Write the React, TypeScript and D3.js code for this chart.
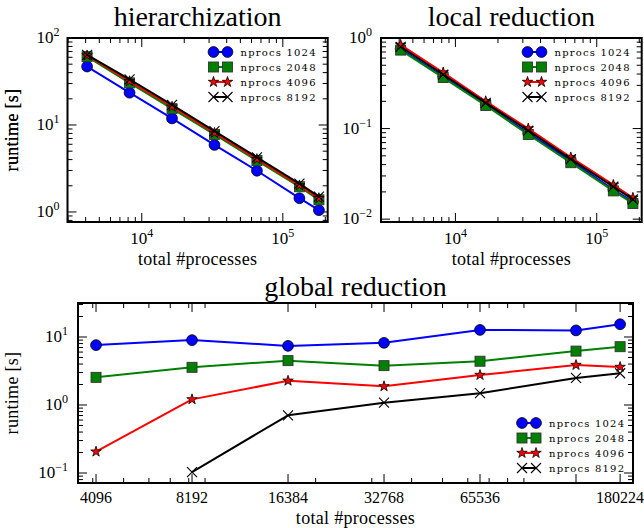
import * as d3 from 'd3';

// total #processes on every x axis
const procs = [4096, 8192, 16384, 32768, 65536, 131072, 180224];
const seriesNames = ['nprocs 1024', 'nprocs 2048', 'nprocs 4096', 'nprocs 8192'];

// hierarchization runtime [s]
const hier1024 = [47, 23.5, 11.9, 5.9, 2.98, 1.44, 1.05];
const hier2048 = [61, 30.5, 15.4, 7.8, 3.9, 1.95, 1.38];
const hier4096 = [63, 31.8, 16.2, 8.1, 4.05, 2.02, 1.44];
const hier8192 = [64, 33.5, 17.0, 8.5, 4.25, 2.12, 1.5];

// local reduction runtime [s]
const local1024 = [0.76, 0.375, 0.185, 0.089, 0.044, 0.0212, 0.0155];
const local2048 = [0.735, 0.366, 0.18, 0.086, 0.042, 0.0205, 0.0149];
const local4096 = [0.84, 0.416, 0.2, 0.1, 0.048, 0.0239, 0.0172];
const local8192 = [0.8, 0.395, 0.192, 0.095, 0.046, 0.0228, 0.0165];

// global reduction runtime [s] (8192 has no run at 4096)
const global1024 = [7.6, 9.0, 7.4, 8.2, 12.7, 12.5, 15.4];
const global2048 = [2.55, 3.58, 4.49, 3.79, 4.4, 6.2, 7.2];
const global4096 = [0.206, 1.21, 2.27, 1.88, 2.76, 3.87, 3.62];
const global8192 = [null, 0.103, 0.706, 1.08, 1.49, 2.5, 2.93];

const globalTickLabels = ['4096', '8192', '16384', '32768', '65536', '', '180224'];

const STYLES = [
    { color: '#0000ff', marker: 'circle' },
    { color: '#008000', marker: 'square' },
    { color: '#ff0000', marker: 'star' },
    { color: '#000000', marker: 'x' },
];

const SERIF = 'Liberation Serif, Tinos, Times New Roman, DejaVu Serif';
const LEGEND_FONT = 'DejaVu Serif';

const starPath = d3.symbol(d3.symbolStar, 34)();

function Marker({ kind, x, y, color }) {
    if (kind === 'circle') {
        return <circle cx={x} cy={y} r={5.4} fill={color} stroke="#000" strokeWidth={0.8} />;
    }
    if (kind === 'square') {
        return <rect x={x - 5} y={y - 5} width={10} height={10} fill={color} stroke="#333" strokeWidth={0.9} />;
    }
    if (kind === 'star') {
        return <path transform={`translate(${x},${y})`} d={starPath} fill={color} stroke="#000" strokeWidth={0.8} />;
    }
    return (
        <path d={`M${x - 5},${y - 5}L${x + 5},${y + 5}M${x - 5},${y + 5}L${x + 5},${y - 5}`}
            stroke={color} strokeWidth={1.1} fill="none" />
    );
}

function pow10Label(exp, props) {
    const e = exp < 0 ? `\u2212${-exp}` : `${exp}`;
    return (
        <text {...props} style={{ fontFamily: SERIF }} fontSize={17} fill="#000">
            <tspan>10</tspan>
            <tspan dy={-7} fontSize={12}>{e}</tspan>
        </text>
    );
}

function logMinors(domain) {
    const out = [];
    const lo = Math.floor(Math.log10(domain[0]));
    const hi = Math.ceil(Math.log10(domain[1]));
    for (let k = lo; k <= hi; k++) {
        for (let m = 2; m <= 9; m++) {
            const v = m * Math.pow(10, k);
            if (v > domain[0] && v < domain[1]) out.push(v);
        }
    }
    return out;
}

function logMajors(domain) {
    const out = [];
    const lo = Math.ceil(Math.log10(domain[0]) - 1e-9);
    const hi = Math.floor(Math.log10(domain[1]) + 1e-9);
    for (let k = lo; k <= hi; k++) out.push(k);
    return out;
}

function Panel({ title, box, xDomain, yDomain, series, xMajor, xLabel, legend, titleY, xLabelY, xTickY, yLabelGap }) {
    const { x0, x1, y0, y1 } = box;
    const x = d3.scaleLog().domain(xDomain).range([x0, x1]);
    const y = d3.scaleLog().domain(yDomain).range([y1, y0]);
    const xMinor = logMinors(xDomain);
    const yMinor = logMinors(yDomain);
    const yMajor = logMajors(yDomain);
    const line = d3.line()
        .defined(d => d[1] != null)
        .x(d => x(d[0]))
        .y(d => y(d[1]));
    const MAJ = 9;
    const MIN = 5;
    const cx = (x0 + x1) / 2;
    const cy = (y0 + y1) / 2;

    return (
        <g>
            <text x={cx} y={titleY} textAnchor="middle" style={{ fontFamily: SERIF }} fontSize={28}>{title}</text>

            {/* ticks, inward on all four sides */}
            <g stroke="#000" strokeWidth={1}>
                {xMinor.map(v => (
                    <g key={'xm' + v}>
                        <line x1={x(v)} x2={x(v)} y1={y1} y2={y1 - MIN} />
                        <line x1={x(v)} x2={x(v)} y1={y0} y2={y0 + MIN} />
                    </g>
                ))}
                {xMajor.map(v => (
                    <g key={'xM' + v}>
                        <line x1={x(v)} x2={x(v)} y1={y1} y2={y1 - MAJ} />
                        <line x1={x(v)} x2={x(v)} y1={y0} y2={y0 + MAJ} />
                    </g>
                ))}
                {yMinor.map(v => (
                    <g key={'ym' + v}>
                        <line x1={x0} x2={x0 + MIN} y1={y(v)} y2={y(v)} />
                        <line x1={x1} x2={x1 - MIN} y1={y(v)} y2={y(v)} />
                    </g>
                ))}
                {yMajor.map(k => (
                    <g key={'yM' + k}>
                        <line x1={x0} x2={x0 + MAJ} y1={y(Math.pow(10, k))} y2={y(Math.pow(10, k))} />
                        <line x1={x1} x2={x1 - MAJ} y1={y(Math.pow(10, k))} y2={y(Math.pow(10, k))} />
                    </g>
                ))}
            </g>

            {/* tick labels */}
            {xMajor.map((v, i) => (
                <g key={'xl' + v}>{xLabel(v, i, x(v), xTickY)}</g>
            ))}
            {yMajor.map(k => (
                <g key={'yl' + k}>
                    {pow10Label(k, { x: x0 - yLabelGap, y: y(Math.pow(10, k)) + 5, textAnchor: 'end' })}
                </g>
            ))}

            {/* data */}
            {series.map((vals, si) => {
                const pts = procs.map((p, i) => [p, vals[i]]);
                const st = STYLES[si];
                return (
                    <g key={'s' + si}>
                        <path d={line(pts)} fill="none" stroke={st.color} strokeWidth={2} strokeLinejoin="round" />
                        {pts.filter(d => d[1] != null).map((d, i) => (
                            <Marker key={i} kind={st.marker} x={x(d[0])} y={y(d[1])} color={st.color} />
                        ))}
                    </g>
                );
            })}

            {/* frame */}
            <rect x={x0} y={y0} width={x1 - x0} height={y1 - y0} fill="none" stroke="#000" strokeWidth={2} />

            {/* legend */}
            {seriesNames.map((name, i) => {
                const ry = legend.y + i * 15;
                const st = STYLES[i];
                return (
                    <g key={'lg' + i}>
                        <line x1={legend.x} x2={legend.x + 14} y1={ry} y2={ry} stroke={st.color} strokeWidth={2} />
                        <Marker kind={st.marker} x={legend.x} y={ry} color={st.color} />
                        <Marker kind={st.marker} x={legend.x + 14} y={ry} color={st.color} />
                        <text x={legend.x + 27} y={ry + 3.8} style={{ fontFamily: LEGEND_FONT }} fontSize={10}
                            letterSpacing={1.2}>{name}</text>
                    </g>
                );
            })}

            {/* axis labels */}
            <text x={cx} y={xLabelY} textAnchor="middle" style={{ fontFamily: SERIF }} fontSize={18} letterSpacing={0.3}>
                total #processes
            </text>
            <text transform={`translate(18,${cy}) rotate(-90)`} textAnchor="middle" style={{ fontFamily: SERIF }}
                fontSize={18} letterSpacing={0.3}>
                runtime [s]
            </text>
        </g>
    );
}

const topXDomain = [2975, 208000];

const powXLabel = (v, i, px, py) => pow10Label(Math.round(Math.log10(v)), { x: px, y: py, textAnchor: 'middle' });
const procXLabel = (v, i, px, py) => (
    <text x={px} y={py} textAnchor="middle" style={{ fontFamily: SERIF }} fontSize={16}>{globalTickLabels[i]}</text>
);

export default function App() {
    return (
        <svg width={644} height={528} style={{ position: 'absolute', left: 0, top: 0, background: '#fff' }}>
            <Panel
                title="hierarchization"
                box={{ x0: 67.5, x1: 327.7, y0: 38, y1: 222 }}
                xDomain={topXDomain}
                yDomain={[0.767, 100]}
                series={[hier1024, hier2048, hier4096, hier8192]}
                xMajor={[1e4, 1e5]}
                xLabel={powXLabel}
                legend={{ x: 213.5, y: 52 }}
                titleY={26}
                xLabelY={265}
                xTickY={244}
                yLabelGap={8}
            />
            <Panel
                title="local reduction"
                box={{ x0: 381, x1: 641.7, y0: 38, y1: 222 }}
                xDomain={topXDomain}
                yDomain={[0.0093, 1]}
                series={[local1024, local2048, local4096, local8192]}
                xMajor={[1e4, 1e5]}
                xLabel={powXLabel}
                legend={{ x: 527.5, y: 52 }}
                titleY={26}
                xLabelY={265}
                xTickY={244}
                yLabelGap={9}
            />
            <Panel
                title="global reduction"
                box={{ x0: 78, x1: 633, y0: 303, y1: 483 }}
                xDomain={[3596, 197800]}
                yDomain={[0.0713, 31.6]}
                series={[global1024, global2048, global4096, global8192]}
                xMajor={procs}
                xLabel={procXLabel}
                legend={{ x: 522, y: 423 }}
                titleY={296}
                xLabelY={524}
                xTickY={503}
                yLabelGap={10}
            />
        </svg>
    );
}
